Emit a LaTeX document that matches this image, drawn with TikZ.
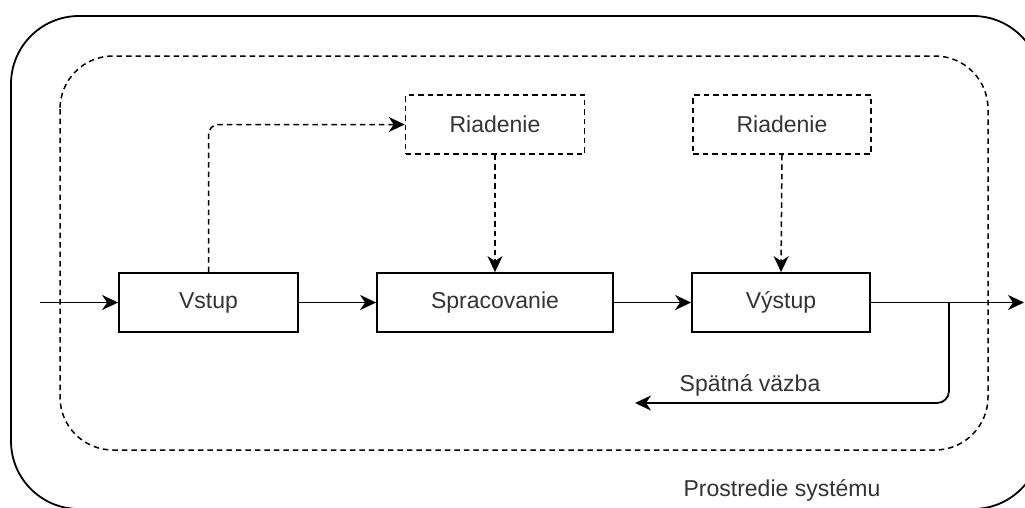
\documentclass[tikz,border=0pt]{standalone}
\usepackage{fontspec}
\setmainfont{Liberation Sans}
\usetikzlibrary{arrows.meta}
\definecolor{txt}{HTML}{333333}
\begin{document}
\begin{tikzpicture}[x=1pt,y=-1pt,
  every node/.style={font=\fontsize{23}{27}\selectfont, text=txt},
  blockbox/.style={draw=black, line width=1.8pt, minimum height=59pt, inner sep=0pt},
  ctrlbox/.style={blockbox, line width=1.5pt, dashed line},
  dashed line/.style={dash pattern=on 5.5pt off 4pt},
  flow/.style={line width=1.8pt, -{Stealth[length=16pt,width=15pt,inset=5pt]}},
  label/.style={inner sep=0pt}]
  \useasboundingbox (0,0) rectangle (1025,507);
  \clip (0,0) rectangle (1025,507);

  % surroundings of the system and the system boundary
  \draw[line width=1.8pt, rounded corners=68pt] (11,16) rectangle (1041,509);
  \draw[line width=1.5pt, dashed line, rounded corners=53pt] (60,56) rectangle (988,450);

  % blocks
  \node[blockbox, minimum width=179pt] (vstup) at (208.5,302.5) {Vstup};
  \node[blockbox, minimum width=236pt] (sprac) at (495,302.5) {Spracovanie};
  \node[blockbox, minimum width=178pt] (vystup) at (781,302.5) {Výstup};
  \node[ctrlbox, minimum width=179pt] (riad1) at (495,124.5) {Riadenie};
  \node[ctrlbox, minimum width=178pt] (riad2) at (782,124.5) {Riadenie};

  % free ends of the flow
  \coordinate (inp) at (40,302.5);
  \coordinate (outp) at (1024,302.5);
  \coordinate (fb) at (949,302.5);
  \coordinate (fbend) at (635,403);

  % main flow
  \draw[flow] (inp) -- (vstup.west);
  \draw[flow] (vstup.east) -- (sprac.west);
  \draw[flow] (sprac.east) -- (vystup.west);
  \draw[flow] (vystup.east) -- (outp);

  % feedback loop
  \draw[flow, rounded corners=12pt] (fb) |- (fbend);

  % control links
  \draw[flow, line width=1.5pt, dashed line, rounded corners=10pt] (vstup.north) |- (riad1.west);
  \draw[flow, line width=1.5pt, dashed line] (riad1.south) -- (sprac.north);
  \draw[flow, line width=1.5pt, dashed line] (riad2.south) -- (vystup.north);

  % labels
  \node[label] (fbl) at (750,385) {Spätná väzba};
  \node[label] (env) at (782,490) {Prostredie systému};
\end{tikzpicture}
\end{document}
